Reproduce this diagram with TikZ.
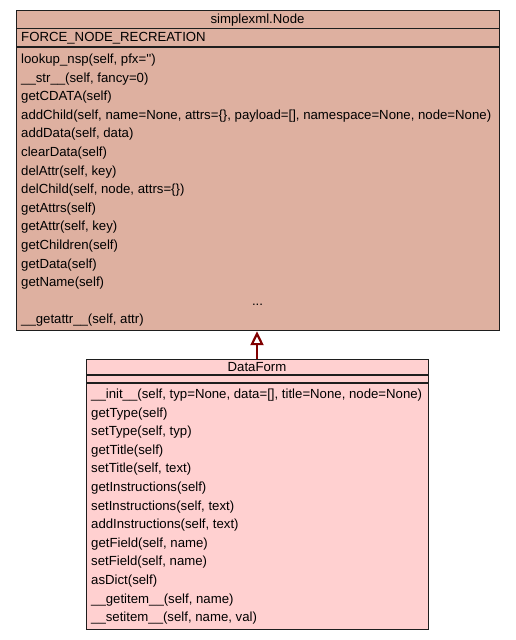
\documentclass[tikz,border=0pt]{standalone}
\usepackage{fontspec}
\setmainfont{Liberation Sans}
\usetikzlibrary{arrows.meta}
\definecolor{nodefill}{RGB}{222,176,160}
\definecolor{formfill}{RGB}{255,208,208}
\definecolor{inh}{RGB}{128,0,0}
\definecolor{edge}{RGB}{30,30,30}
\begin{document}
\begin{tikzpicture}[x=1pt,y=-1pt,
  txt/.style={font=\fontsize{13.2}{15}\selectfont, inner sep=0pt, anchor=base west},
  ctxt/.style={font=\fontsize{13.2}{15}\selectfont, inner sep=0pt, anchor=base},
  classbox/.style={draw=edge, line width=1.2pt, inner sep=0pt, anchor=north west},
  thinsep/.style={draw=edge, line width=1pt},
  thicksep/.style={draw=edge, line width=2pt}]
\useasboundingbox (0,0) rectangle (515,640);
% ---- simplexml.Node ----
\node[classbox, fill=nodefill, minimum width=483pt, minimum height=320pt] (nodebox) at (16,10) {};
\draw[thinsep] (16,28) -- (499,28);
\draw[thicksep] (16,46.5) -- (499,46.5);
\node[ctxt] (ntitle) at (257.5,23.5) {simplexml.Node};
\node[txt] (nattr) at (21,41.5) {FORCE\_NODE\_RECREATION};
\node[txt] (m0) at (21,63.5) {lookup\_nsp(self, pfx=\textquotesingle\textquotesingle)};
\node[txt] (m1) at (21,82.1) {\_\_str\_\_(self, fancy=0)};
\node[txt] (m2) at (21,100.7) {getCDATA(self)};
\node[txt] (m3) at (21,119.3) {addChild(self, name=None, attrs=\{\}, payload=[], namespace=None, node=None)};
\node[txt] (m4) at (21,137.9) {addData(self, data)};
\node[txt] (m5) at (21,156.5) {clearData(self)};
\node[txt] (m6) at (21,175.1) {delAttr(self, key)};
\node[txt] (m7) at (21,193.7) {delChild(self, node, attrs=\{\})};
\node[txt] (m8) at (21,212.3) {getAttrs(self)};
\node[txt] (m9) at (21,230.9) {getAttr(self, key)};
\node[txt] (m10) at (21,249.5) {getChildren(self)};
\node[txt] (m11) at (21,268.1) {getData(self)};
\node[txt] (m12) at (21,286.7) {getName(self)};
\node[ctxt] (m13) at (257.5,305.3) {...};
\node[txt] (m14) at (21,323.9) {\_\_getattr\_\_(self, attr)};
% ---- DataForm ----
\node[classbox, fill=formfill, minimum width=342pt, minimum height=270pt] (form) at (86,359) {};
\draw[thicksep] (86,374.5) -- (428,374.5);
\draw[thicksep] (86,383) -- (428,383);
\node[ctxt] (ftitle) at (257,371.5) {DataForm};
\node[txt] (f0) at (91,398.5) {\_\_init\_\_(self, typ=None, data=[], title=None, node=None)};
\node[txt] (f1) at (91,417.1) {getType(self)};
\node[txt] (f2) at (91,435.7) {setType(self, typ)};
\node[txt] (f3) at (91,454.3) {getTitle(self)};
\node[txt] (f4) at (91,472.9) {setTitle(self, text)};
\node[txt] (f5) at (91,491.5) {getInstructions(self)};
\node[txt] (f6) at (91,510.1) {setInstructions(self, text)};
\node[txt] (f7) at (91,528.7) {addInstructions(self, text)};
\node[txt] (f8) at (91,547.3) {getField(self, name)};
\node[txt] (f9) at (91,565.9) {setField(self, name)};
\node[txt] (f10) at (91,584.5) {asDict(self)};
\node[txt] (f11) at (91,603.1) {\_\_getitem\_\_(self, name)};
\node[txt] (f12) at (91,621.7) {\_\_setitem\_\_(self, name, val)};
% ---- inheritance ----
\draw[inh, line width=2.8pt, -{Triangle[open, length=14pt, width=13pt, line width=2.2pt]}] (form.north -| 257,0) -- (nodebox.south -| 257,0);
\end{tikzpicture}
\end{document}
